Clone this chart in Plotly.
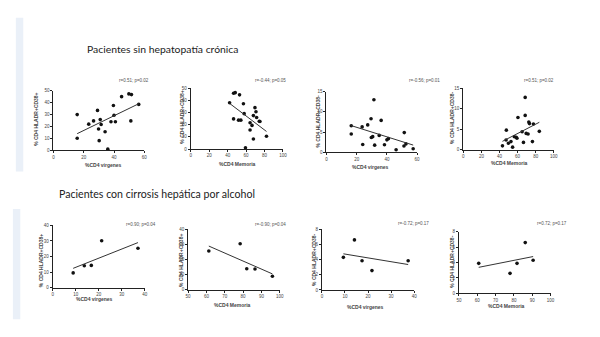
import plotly.graph_objects as go
import numpy as np

W, H = 600, 337

# ---------------- data ----------------
row_titles = ["Pacientes sin hepatopatía crónica", "Pacientes con cirrosis hepática por alcohol"]

x_titles = ["%CD4 vírgenes", "%CD4 Memoria", "%CD4 vírgenes", "%CD4 Memoria",
            "%CD4 vírgenes", "%CD4 Memoria", "%CD4 vírgenes", "%CD4 Memoria"]
y_titles = ["% CD4 HLADR+CD38+", "% CD4 HLADR+CD38+", "% CD4 HLADR+CD38-", "% CD4 HLADR+CD38-",
            "% CD4 HLADR+CD38+", "% CD4 HLADR+CD38+", "% CD4 HLADR+CD38-", "% CD4 HLADR+CD38-"]
stats = ["r=0.51; p=0.02", "r=-0.44; p=0.05", "r=-0.56; p=0.01", "r=0.51; p=0.02",
         "r=0.90; p=0.04", "r=-0.90; p=0.04", "r=-0.72; p=0.17", "r=0.72; p=0.17"]

p1_x = [15.7, 15.7, 23.3, 26.5, 29.1, 29.8, 30.2, 30.9, 31.5, 34.1, 35.9, 38.0, 39.6, 40.0, 40.9, 45.0, 49.8, 51.5, 51.1, 56.3]
p1_y = [10.2, 30.0, 22.0, 24.7, 33.5, 17.9, 8.2, 25.8, 21.7, 15.7, 1.1, 24.0, 37.6, 29.4, 24.0, 45.0, 47.3, 46.7, 24.7, 38.5]

p2_x = [42.1, 46.4, 48.2, 46.4, 52.9, 51.8, 54.3, 57.1, 57.9, 59.3, 64.3, 64.3, 66.4, 67.9, 67.9, 69.6, 70.7, 71.4, 74.3, 75.0, 82.1]
p2_y = [37.9, 45.7, 46.2, 24.7, 44.4, 23.7, 23.7, 37.1, 29.0, 1.1, 21.5, 15.6, 19.4, 27.4, 8.3, 33.9, 30.6, 25.8, 22.8, 22.6, 10.5]

p3_x = [16.4, 16.4, 23.6, 24.0, 27.3, 29.5, 29.7, 30.6, 31.4, 31.9, 34.9, 36.2, 38.4, 40.0, 41.0, 46.1, 51.5, 51.3, 52.6, 57.4]
p3_y = [6.6, 4.55, 6.3, 1.95, 6.8, 8.3, 3.7, 3.9, 13.0, 1.8, 4.2, 7.9, 1.9, 3.1, 3.4, 0.65, 4.9, 1.6, 2.1, 0.9]

p4_x = [43.3, 47.6, 47.3, 49.8, 52.7, 54.5, 56.4, 58.5, 60.4, 59.3, 65.0, 66.5, 68.4, 68.4, 69.5, 71.6, 72.4, 73.1, 76.4, 77.5, 84.0]
p4_y = [0.96, 4.8, 2.4, 1.6, 2.0, 0.64, 3.2, 3.05, 7.9, 2.8, 4.4, 1.8, 12.8, 8.4, 4.0, 3.85, 6.8, 6.4, 2.0, 6.3, 4.5]

p5_x = [8.9, 13.75, 16.8, 21.3, 37.1]
p5_y = [9.5, 14.1, 14.3, 30.1, 25.3]

p6_x = [61.3, 78.4, 82.0, 86.5, 96.0]
p6_y = [25.6, 30.4, 13.9, 13.7, 8.9]

p7_x = [9.3, 14.1, 17.4, 21.7, 37.4]
p7_y = [4.3, 6.6, 3.85, 2.55, 3.85]

p8_x = [60.8, 77.9, 81.7, 86.2, 90.5]
p8_y = [3.9, 2.6, 3.9, 6.6, 4.3]

xs = [p1_x, p2_x, p3_x, p4_x, p5_x, p6_x, p7_x, p8_x]
ys = [p1_y, p2_y, p3_y, p4_y, p5_y, p6_y, p7_y, p8_y]

x_ranges = [[0, 60], [0, 100], [0, 60], [0, 100], [0, 40], [50, 100], [0, 40], [50, 100]]
x_dticks = [20, 20, 20, 20, 10, 10, 10, 10]
y_ranges = [[0, 50], [0, 50], [0, 15], [0, 15], [0, 40], [0, 40], [0, 8], [0, 8]]
y_dticks = [10, 10, 5, 5, 10, 10, 2, 2]

# ---------------- layout geometry (pixels) ----------------
# plot boxes: (left, right, top, bottom)
boxes = [(51, 143, 90, 150.7), (190, 283.3, 87.3, 149.3), (327.3, 419, 91, 152.7), (465.7, 557.3, 87.7, 150),
         (50.3, 143.3, 226.7, 290), (187.3, 280, 230.7, 292), (322.7, 416, 230.7, 292.3), (461.3, 554, 233.3, 295.7)]
stat_pos = [(150, 80), (288, 80), (444, 80), (560, 80), (157, 226), (288, 226), (433, 225), (573, 225)]
xt_pos = [(102, 165.5), (237, 164.5), (372, 167.5), (512, 163.5), (93, 301), (232, 308), (367, 309.5), (509, 308.5)]
yt_pos = [(34, 119), (181.5, 117), (319, 121), (455, 118), (38.5, 263), (180, 262), (314.5, 262), (454, 264)]

def px(x):
    return x / W

def py(y):
    return 1 - y / H

fig = go.Figure()
layout = dict(width=W, height=H, margin=dict(l=0, r=0, t=0, b=0),
              paper_bgcolor="white", plot_bgcolor="white", showlegend=False,
              font=dict(family="Liberation Sans, Arial", color="#333"))
annotations = []
shapes = []

tickfont = dict(size=4.5, color="#444", family="Liberation Sans, Arial")

for i in range(8):
    n = i + 1
    xa = "x" if n == 1 else f"x{n}"
    ya = "y" if n == 1 else f"y{n}"
    l, r, t, b = boxes[i]
    layout["xaxis" if n == 1 else f"xaxis{n}"] = dict(
        domain=[px(l), px(r)], anchor=ya, range=x_ranges[i], dtick=x_dticks[i], tick0=x_ranges[i][0],
        showgrid=False, zeroline=False, showline=True, linecolor="#222", linewidth=1,
        ticks="outside", ticklen=2, tickwidth=1, tickcolor="#222", tickfont=tickfont, fixedrange=True)
    layout["yaxis" if n == 1 else f"yaxis{n}"] = dict(
        domain=[py(b), py(t)], anchor=xa, range=y_ranges[i], dtick=y_dticks[i], tick0=0,
        showgrid=False, zeroline=False, showline=True, linecolor="#222", linewidth=1,
        ticks="outside", ticklen=2, tickwidth=1, tickcolor="#222", tickfont=tickfont, fixedrange=True)

    xv = np.array(xs[i], dtype=float)
    yv = np.array(ys[i], dtype=float)
    fig.add_trace(go.Scatter(x=xv, y=yv, mode="markers", xaxis=xa, yaxis=ya,
                             marker=dict(color="#111", size=3.6), cliponaxis=False))
    k, c = np.polyfit(xv, yv, 1)
    lx = np.array([xv.min(), xv.max()])
    fig.add_trace(go.Scatter(x=lx, y=k * lx + c, mode="lines", xaxis=xa, yaxis=ya,
                             line=dict(color="#333", width=1), cliponaxis=False))

    sx, sy = stat_pos[i]
    annotations.append(dict(text=stats[i], x=px(sx), y=py(sy), xref="paper", yref="paper",
                            xanchor="right", yanchor="middle", showarrow=False,
                            font=dict(size=4.5, color="#555")))
    tx, ty = xt_pos[i]
    annotations.append(dict(text="<b>" + x_titles[i] + "</b>", x=px(tx), y=py(ty), xref="paper", yref="paper",
                            xanchor="center", yanchor="middle", showarrow=False,
                            font=dict(size=5, color="#444")))
    yx, yy = yt_pos[i]
    annotations.append(dict(text="<b>" + y_titles[i] + "</b>", x=px(yx), y=py(yy), xref="paper", yref="paper",
                            xanchor="center", yanchor="middle", showarrow=False, textangle=-90,
                            font=dict(size=5, color="#444")))

# row titles
annotations.append(dict(text=row_titles[0], x=px(83), y=py(47.5), xref="paper", yref="paper",
                        xanchor="left", yanchor="middle", showarrow=False,
                        font=dict(size=10.4, color="#222", family="Lato")))
annotations.append(dict(text=row_titles[1], x=px(55), y=py(195), xref="paper", yref="paper",
                        xanchor="left", yanchor="middle", showarrow=False,
                        font=dict(size=10.6, color="#222", family="Lato")))

# light blue side bars
shapes.append(dict(type="rect", xref="paper", yref="paper", x0=px(13), x1=px(20.5), y0=py(172), y1=py(16),
                   fillcolor="#EAF0F8", line=dict(width=0), layer="below"))
shapes.append(dict(type="rect", xref="paper", yref="paper", x0=px(10), x1=px(17.5), y0=py(322), y1=py(210),
                   fillcolor="#EAF0F8", line=dict(width=0), layer="below"))

layout["annotations"] = annotations
layout["shapes"] = shapes
fig.update_layout(**layout)
fig.write_html("out.html", config={"displayModeBar": False},
               post_script="document.body.style.margin='0';document.body.style.overflow='hidden';")
